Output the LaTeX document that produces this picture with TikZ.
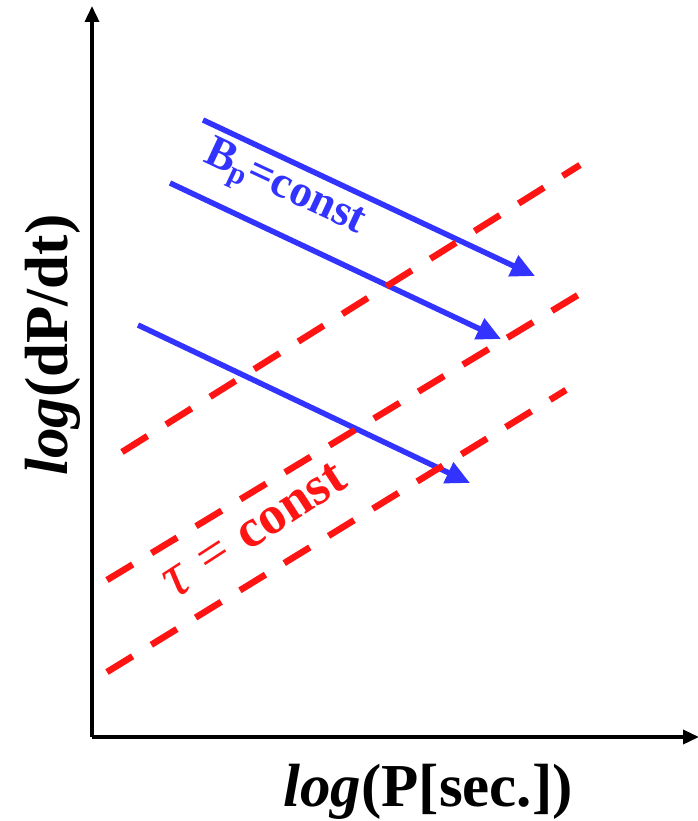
\documentclass[tikz,border=0pt]{standalone}
\usepackage{fontspec}
\setmainfont{Liberation Serif}
\usetikzlibrary{arrows.meta}
\definecolor{myblue}{RGB}{51,51,255}
\definecolor{myred}{RGB}{255,20,20}
\begin{document}
\begin{tikzpicture}[x=1pt,y=-1pt,
  axis/.style={line width=3.5pt,-{Triangle[length=16pt,width=14pt]}},
  bline/.style={myblue,line width=5.5pt,-{Triangle[length=24pt,width=22pt]}},
  rline/.style={myred,line width=6.5pt,dash pattern=on 30pt off 22pt},
  lab/.style={inner sep=0pt,font=\fontsize{61}{63}\selectfont\bfseries}
]
\useasboundingbox (0,0) rectangle (697,821);
\coordinate (O) at (92,737);
\coordinate (ytop) at (92,6);
\coordinate (xend) at (699,737);
\draw[axis] (O) -- (ytop);
\draw[axis] (O) -- (xend);
% blue arrows
\coordinate (b1s) at (203,120); \coordinate (b1e) at (535,276);
\coordinate (b2s) at (170,183); \coordinate (b2e) at (501,339);
\coordinate (b3s) at (138,325); \coordinate (b3e) at (470,483);
\draw[bline] (b1s) -- (b1e);
\draw[bline] (b2s) -- (b2e);
\draw[bline] (b3s) -- (b3e);
% red dashed
\coordinate (r1s) at (122,452); \coordinate (r1e) at (580,165);
\coordinate (r2s) at (107,580); \coordinate (r2e) at (578,295);
\coordinate (r3s) at (107,672); \coordinate (r3e) at (566,390);
\draw[rline] (r1s) -- (r1e);
\draw[rline] (r2s) -- (r2e);
\draw[rline] (r3s) -- (r3e);
% labels
\node[lab,anchor=base] (xl) at (428,806) {\textit{log}(P[sec.])};
\node[lab,rotate=90,anchor=base] (yl) at (67,345) {\textit{log}(dP/dt)};
\node[inner sep=0pt,text=myblue,rotate=-25,font=\fontsize{45}{47}\selectfont\bfseries] (bp) at (284,190) {B\raisebox{-0.3ex}{\fontsize{30}{32}\selectfont p}=const};
\node[inner sep=0pt,text=myred,rotate=33,font=\fontsize{54}{56}\selectfont\bfseries] (tau) at (254,530) {{\mdseries\itshape\fontsize{62}{64}\selectfont τ}\hspace{0.35em}{\mdseries =}\hspace{0.3em}const};
\end{tikzpicture}
\end{document}
